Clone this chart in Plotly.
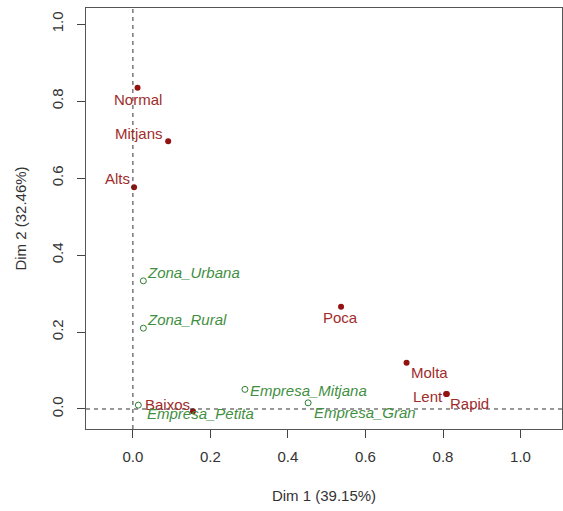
import plotly.graph_objects as go

# Active categories (red)
act_names = ["Normal", "Mitjans", "Alts", "Baixos", "Poca", "Molta", "Lent", "Rapid"]
act_dim1 = [0.012, 0.091, 0.003, 0.155, 0.537, 0.706, 0.808, 0.810]
act_dim2 = [0.835, 0.696, 0.576, -0.006, 0.266, 0.120, 0.039, 0.039]

# Supplementary categories (green)
sup_names = ["Zona_Urbana", "Zona_Rural", "Empresa_Petita", "Empresa_Mitjana", "Empresa_Gran"]
sup_dim1 = [0.027, 0.027, 0.014, 0.289, 0.452]
sup_dim2 = [0.333, 0.210, 0.010, 0.051, 0.016]

tick_vals = [0.0, 0.2, 0.4, 0.6, 0.8, 1.0]
tick_text = ["0.0", "0.2", "0.4", "0.6", "0.8", "1.0"]

# label offsets in pixels (label placement, style only)
act_off = [(0, -12), (-29, 8), (-17, 9), (-25, 7), (-1, -11), (23, -10), (-18, -3), (23, -10)]
sup_off = [(2, 8), (2, 9), (7, -8), (3, -1), (4, -10)]

RED = "#931111"
RED_T = "#A02C2C"
GREEN = "#2E7D32"
GREEN_T = "#3F8F3F"
FONT = "Liberation Sans, Arial, sans-serif"

fig = go.Figure()
fig.add_trace(go.Scatter(x=act_dim1, y=act_dim2, mode="markers",
                         marker=dict(color=RED, size=6, symbol="circle"),
                         showlegend=False, hoverinfo="text", text=act_names))
fig.add_trace(go.Scatter(x=sup_dim1, y=sup_dim2, mode="markers",
                         marker=dict(color=GREEN, size=6, symbol="circle-open",
                                     line=dict(width=1, color=GREEN)),
                         showlegend=False, hoverinfo="text", text=sup_names))

anns = []
for n, x, y, (dx, dy) in zip(act_names, act_dim1, act_dim2, act_off):
    anns.append(dict(x=x, y=y, text=n, showarrow=False, xshift=dx, yshift=dy,
                     xanchor="center", yanchor="middle",
                     font=dict(family=FONT, size=15, color=RED_T)))
for n, x, y, (dx, dy) in zip(sup_names, sup_dim1, sup_dim2, sup_off):
    anns.append(dict(x=x, y=y, text="<i>" + n + "</i>", showarrow=False, xshift=dx, yshift=dy,
                     xanchor="left", yanchor="middle",
                     font=dict(family=FONT, size=15, color=GREEN_T)))

fig.update_layout(
    width=563, height=511,
    margin=dict(l=86, r=1, t=8, b=82),
    plot_bgcolor="white", paper_bgcolor="white",
    font=dict(family=FONT, size=15, color="#333333"),
    annotations=anns,
    shapes=[
        dict(type="line", xref="x", yref="y domain", x0=0, x1=0, y0=0, y1=1,
             line=dict(color="#333333", width=1, dash="4px,4px")),
        dict(type="line", xref="x domain", yref="y", x0=0, x1=1, y0=0, y1=0,
             line=dict(color="#333333", width=1, dash="4px,4px")),
    ],
)
fig.update_xaxes(range=[-0.121, 1.107], tickvals=tick_vals, ticktext=tick_text,
                 ticks="outside", ticklen=8, tickcolor="#444444", automargin=False,
                 ticklabelstandoff=6,
                 showgrid=False, zeroline=False,
                 showline=True, linecolor="#555555", linewidth=1, mirror=True,
                 tickfont=dict(size=15, color="#333333"),
                 title=dict(text="Dim 1 (39.15%)", font=dict(size=15, color="#333333"), standoff=26))
fig.update_yaxes(range=[-0.052, 1.042], tickvals=tick_vals, ticktext=tick_text,
                 ticks="outside", ticklen=8, tickcolor="#444444", tickangle=-90,
                 automargin=False, ticklabelstandoff=8,
                 showgrid=False, zeroline=False,
                 showline=True, linecolor="#555555", linewidth=1, mirror=True,
                 tickfont=dict(size=15, color="#333333"),
                 title=dict(text="Dim 2 (32.46%)", font=dict(size=15, color="#333333"), standoff=18))

fig.write_html("out.html", config={"displayModeBar": False},
               post_script="document.body.style.margin='0';document.body.style.overflow='hidden';")
